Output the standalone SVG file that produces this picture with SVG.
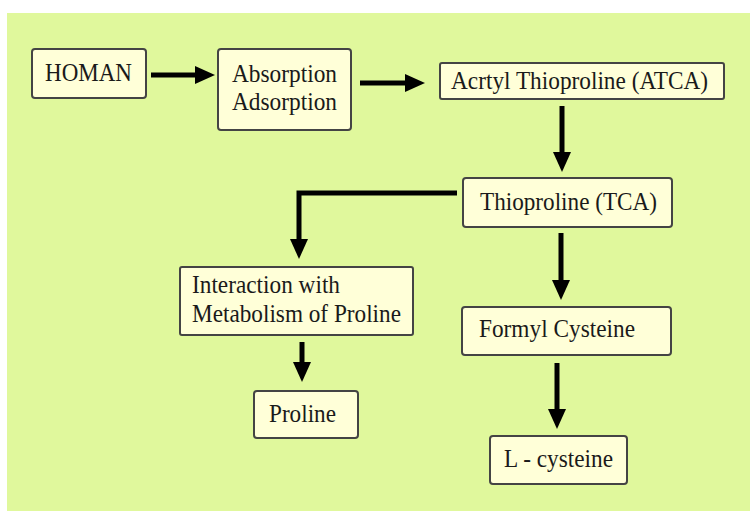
<svg xmlns="http://www.w3.org/2000/svg" width="750" height="511" viewBox="0 0 750 511">
<style>
.node rect{fill:#FFFFD8;stroke:#444;stroke-width:2}
.node text{font-family:"Liberation Serif","Times New Roman",serif;font-size:25px;fill:#1a1a1a}
#connectors path{fill:none;stroke:#000;stroke-width:5;marker-end:url(#ah)}
</style>
<defs>
<marker id="ah" viewBox="0 0 20 18" refX="10" refY="9" markerWidth="20" markerHeight="18" markerUnits="userSpaceOnUse" orient="auto">
<path d="M0,0 L20,9 L0,18 Z" fill="#000"/>
</marker>
</defs>
<rect x="0" y="0" width="750" height="511" fill="#fff"/>
<rect x="7" y="13" width="743" height="498" fill="#E0F89C"/>
<g id="connectors">
<path d="M151,75 H205"/>
<path d="M360,83 H415"/>
<path d="M562,106 V162"/>
<path d="M457,193 H299 V249"/>
<path d="M561,233 V290"/>
<path d="M302,342 V372"/>
<path d="M557,363 V419"/>
</g>
<g id="homan" class="node"><rect x="32" y="49" width="114" height="49" rx="3"/><text x="45" y="81" textLength="87" lengthAdjust="spacingAndGlyphs">HOMAN</text></g>
<g id="absorption" class="node"><rect x="218" y="49" width="133" height="81" rx="3"/><text x="232" y="82" textLength="105" lengthAdjust="spacingAndGlyphs">Absorption</text><text x="232" y="110" textLength="105" lengthAdjust="spacingAndGlyphs">Adsorption</text></g>
<g id="atca" class="node"><rect x="440" y="63" width="284" height="36" rx="2"/><text x="451" y="89" textLength="257" lengthAdjust="spacingAndGlyphs">Acrtyl Thioproline (ATCA)</text></g>
<g id="tca" class="node"><rect x="463" y="178" width="209" height="49" rx="3"/><text x="480" y="210" textLength="177" lengthAdjust="spacingAndGlyphs">Thioproline (TCA)</text></g>
<g id="interaction" class="node"><rect x="180" y="267" width="233" height="68" rx="2"/><text x="192" y="293" textLength="148" lengthAdjust="spacingAndGlyphs">Interaction with</text><text x="192" y="322" textLength="209" lengthAdjust="spacingAndGlyphs">Metabolism of Proline</text></g>
<g id="formyl" class="node"><rect x="462" y="307" width="209" height="48" rx="3"/><text x="479" y="337" textLength="156" lengthAdjust="spacingAndGlyphs">Formyl Cysteine</text></g>
<g id="proline" class="node"><rect x="254" y="391" width="104" height="47" rx="3"/><text x="269" y="422" textLength="67" lengthAdjust="spacingAndGlyphs">Proline</text></g>
<g id="lcysteine" class="node"><rect x="490" y="436" width="137" height="48" rx="3"/><text x="504" y="467" textLength="109" lengthAdjust="spacingAndGlyphs">L - cysteine</text></g>
</svg>
